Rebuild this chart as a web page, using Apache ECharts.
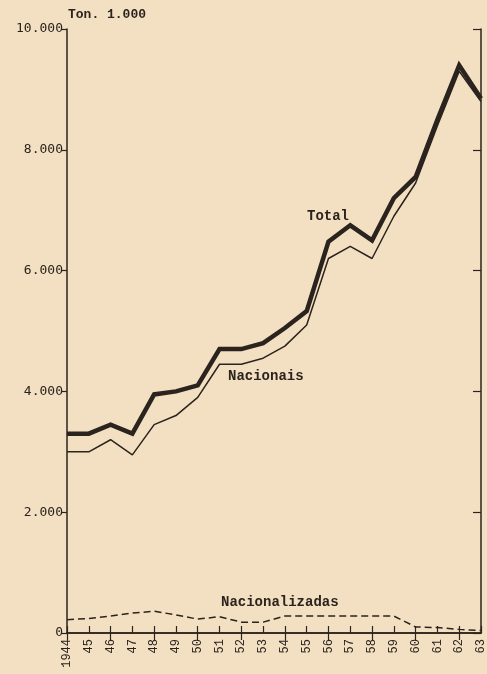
<!DOCTYPE html>
<html>
<head>
<meta charset="utf-8">
<script src="https://cdn.jsdelivr.net/npm/echarts@6/dist/echarts.min.js"></script>
<style>
html,body{margin:0;padding:0;background:#f3e0c2;}
#c{width:487px;height:674px;}
</style>
</head>
<body>
<div id="c"></div>
<script>
var years = ['1944','45','46','47','48','49','50','51','52','53','54','55','56','57','58','59','60','61','62','63'];
var total = [3300,3300,3450,3300,3950,4000,4100,4700,4700,4800,5050,5330,6480,6750,6500,7200,7550,8500,9400,8850];
var nacionais = [3000,3000,3200,2950,3450,3600,3900,4450,4450,4550,4750,5100,6200,6400,6200,6900,7450,8400,9300,8800];
var nacionalizadas = [220,240,280,330,360,300,230,270,180,180,280,280,280,280,280,280,100,90,60,40];
var yTicks = [0,2000,4000,6000,8000,10000];

var ink = '#2b231d';
var mono = '"Liberation Mono", "DejaVu Sans Mono", monospace';
function fmt(v){ if(v===0) return '0'; var s=String(v); return s.slice(0,s.length-3)+'.'+s.slice(-3); }

var chart = echarts.init(document.getElementById('c'));
chart.setOption({
  backgroundColor: '#f3e0c2',
  animation: false,
  grid: {left: 67, right: 4, top: 29, bottom: 41},
  xAxis: [{
    type: 'category', data: years, boundaryGap: false, position: 'bottom',
    axisLine: {lineStyle: {color: ink, width: 1.5}},
    axisTick: {inside: true, length: 7, lineStyle: {color: ink, width: 1.2}},
    axisLabel: {rotate: 90, color: ink, fontFamily: mono, fontSize: 12, margin: 6},
    splitLine: {show: false}
  },{
    type: 'category', data: years, boundaryGap: false, position: 'top',
    axisLine: {lineStyle: {color: ink, width: 1.5}},
    axisTick: {inside: true, length: 7, lineStyle: {color: ink, width: 1.2}},
    axisLabel: {show: false}
  }],
  yAxis: [{
    type: 'value', min: 0, max: 10000, interval: 2000, position: 'left',
    axisLine: {show: true, lineStyle: {color: ink, width: 1.5}},
    axisTick: {show: true, inside: false, length: 5, lineStyle: {color: ink, width: 1.2}},
    axisLabel: {color: ink, fontFamily: '"DejaVu Sans Mono", monospace', fontSize: 13, margin: 4, formatter: fmt},
    splitLine: {show: false}
  },{
    type: 'value', min: 0, max: 10000, interval: 2000, position: 'right',
    axisLine: {show: true, lineStyle: {color: ink, width: 1.5}},
    axisTick: {show: true, inside: true, length: 8, lineStyle: {color: ink, width: 1.2}},
    axisLabel: {show: false},
    splitLine: {show: false}
  }],
  series: [{
    name: 'Total', type: 'line', data: total, symbol: 'none',
    lineStyle: {color: ink, width: 4.5, join: 'miter'}
  },{
    name: 'Nacionais', type: 'line', data: nacionais, symbol: 'none',
    lineStyle: {color: ink, width: 1.5}
  },{
    name: 'Nacionalizadas', type: 'line', data: nacionalizadas, symbol: 'none',
    lineStyle: {color: ink, width: 1.5, type: [7,4]}
  }],
  graphic: [
    {type: 'text', left: 68, top: 8, style: {text: 'Ton. 1.000', font: 'bold 13px ' + mono, fill: ink}},
    {type: 'text', left: 307, top: 209, style: {text: 'Total', font: 'bold 14px ' + mono, fill: ink}},
    {type: 'text', left: 228, top: 369, style: {text: 'Nacionais', font: 'bold 14px ' + mono, fill: ink}},
    {type: 'text', left: 221, top: 595, style: {text: 'Nacionalizadas', font: 'bold 14px ' + mono, fill: ink}}
  ]
});
</script>
</body>
</html>
